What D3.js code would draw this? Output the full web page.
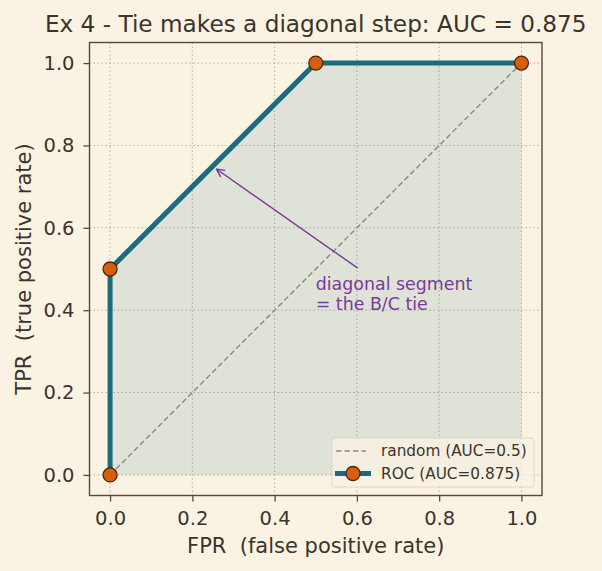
<!DOCTYPE html>
<html>
<head>
<meta charset="utf-8">
<script src="https://cdn.jsdelivr.net/npm/d3@7"></script>
<style>
  body { margin: 0; background: #faf3e4; }
  svg { display: block; }
  text { font-family: "DejaVu Sans", sans-serif; fill: #3b342b; white-space: pre; }
</style>
</head>
<body>
<div id="chart"></div>
<script>
// ROC points (FPR, TPR)
const fpr = [0.0, 0.0, 0.5, 1.0];
const tpr = [0.0, 0.5, 1.0, 1.0];
const randomX = [0, 1];
const randomY = [0, 1];
const xTicks = [0.0, 0.2, 0.4, 0.6, 0.8, 1.0];
const yTicks = [0.0, 0.2, 0.4, 0.6, 0.8, 1.0];
const titleText = "Ex 4 - Tie makes a diagonal step: AUC = 0.875";
const xLabel = "FPR  (false positive rate)";
const yLabel = "TPR  (true positive rate)";
const legendLabels = ["random (AUC=0.5)", "ROC (AUC=0.875)"];
const noteLines = ["diagonal segment", "= the B/C tie"];
const notePoint = [0.25, 0.75];
const noteText = [0.5, 0.4];

const W = 602, H = 571;
const margin = { top: 42.5, right: 60, bottom: 75.5, left: 89.5 };
const width = W - margin.left - margin.right,
      height = H - margin.top - margin.bottom;

const svg = d3.select("#chart").append("svg")
    .attr("width", W).attr("height", H);
svg.append("rect").attr("width", W).attr("height", H).attr("fill", "#faf3e4");

const g = svg.append("g").attr("transform", `translate(${margin.left},${margin.top})`);

const x = d3.scaleLinear().domain([-0.05, 1.05]).range([0, width]);
const y = d3.scaleLinear().domain([-0.05, 1.05]).range([height, 0]);

const roc = fpr.map((f, i) => ({ x: f, y: tpr[i] }));

// grid
g.append("g").selectAll("line").data(xTicks).enter().append("line")
    .attr("x1", d => x(d)).attr("x2", d => x(d))
    .attr("y1", 0).attr("y2", height)
    .attr("stroke", "#b5aea0").attr("stroke-width", 1).attr("stroke-dasharray", "1.5,2.5");
g.append("g").selectAll("line").data(yTicks).enter().append("line")
    .attr("y1", d => y(d)).attr("y2", d => y(d))
    .attr("x1", 0).attr("x2", width)
    .attr("stroke", "#b5aea0").attr("stroke-width", 1).attr("stroke-dasharray", "1.5,2.5");

// area under ROC
const area = d3.area().x(d => x(d.x)).y0(y(0)).y1(d => y(d.y));
g.append("path").datum(roc).attr("d", area)
    .attr("fill", "#1b6b7a").attr("fill-opacity", 0.12);

// random line
const line = d3.line().x(d => x(d.x)).y(d => y(d.y));
g.append("path").datum(randomX.map((v, i) => ({ x: v, y: randomY[i] })))
    .attr("d", line).attr("fill", "none")
    .attr("stroke", "#8a8a80").attr("stroke-width", 1.4).attr("stroke-dasharray", "5.5,3");

// ROC line
g.append("path").datum(roc).attr("d", line).attr("fill", "none")
    .attr("stroke", "#1b6b7a").attr("stroke-width", 5).attr("stroke-linejoin", "round");

g.selectAll(".pt").data(roc).enter().append("circle")
    .attr("class", "pt")
    .attr("cx", d => x(d.x)).attr("cy", d => y(d.y)).attr("r", 7)
    .attr("fill", "#d65f0e").attr("stroke", "#4a2510").attr("stroke-width", 1.3);

// annotation
const defs = svg.append("defs");
defs.append("marker").attr("id", "arr")
    .attr("viewBox", "0 0 10 10").attr("refX", 9).attr("refY", 5)
    .attr("markerWidth", 10).attr("markerHeight", 10)
    .attr("markerUnits", "userSpaceOnUse")
    .attr("orient", "auto")
    .append("path").attr("d", "M1,1 L9,5 L1,9")
    .attr("fill", "none").attr("stroke", "#7a3a9a").attr("stroke-width", 1.4);

const tailX = x(noteText[0]) + 42, tailY = y(noteText[1]) - 42;
g.append("line")
    .attr("x1", tailX).attr("y1", tailY)
    .attr("x2", x(notePoint[0]) + 3.5).attr("y2", y(notePoint[1]) + 3)
    .attr("stroke", "#7a3a9a").attr("stroke-width", 1.4)
    .attr("marker-end", "url(#arr)");

const note = g.append("text")
    .attr("x", x(noteText[0])).attr("y", y(noteText[1]))
    .style("font-size", "17.4px").style("fill", "#7a3a9a");
note.append("tspan").attr("x", x(noteText[0])).attr("dy", -20.5).text(noteLines[0]);
note.append("tspan").attr("x", x(noteText[0])).attr("dy", 20.5).text(noteLines[1]);

// axes
const xAxis = g.append("g").attr("transform", `translate(0,${height})`)
    .call(d3.axisBottom(x).tickValues(xTicks).tickFormat(d3.format(".1f")).tickSize(6).tickPadding(10));
const yAxis = g.append("g")
    .call(d3.axisLeft(y).tickValues(yTicks).tickFormat(d3.format(".1f")).tickSize(6).tickPadding(9));
[xAxis, yAxis].forEach(a => {
    a.select(".domain").remove();
    a.selectAll(".tick line").attr("stroke", "#54493b").attr("stroke-width", 1.3);
    a.selectAll(".tick text").style("font-size", "19.5px")
        .style("font-family", "DejaVu Sans, sans-serif").attr("fill", "#3b342b");
});

// frame
g.append("rect").attr("width", width).attr("height", height)
    .attr("fill", "none").attr("stroke", "#54493b").attr("stroke-width", 1.4);

// legend
const lg = g.append("g").attr("transform", `translate(${332 - margin.left},${438 - margin.top})`);
lg.append("rect").attr("width", 202).attr("height", 49).attr("rx", 3)
    .attr("fill", "#faf3e4").attr("fill-opacity", 0.8)
    .attr("stroke", "#ddd6c6").attr("stroke-width", 1);
lg.append("line").attr("x1", 4).attr("x2", 34).attr("y1", 13).attr("y2", 13)
    .attr("stroke", "#8a8a80").attr("stroke-width", 1.4).attr("stroke-dasharray", "5.5,3");
lg.append("line").attr("x1", 3).attr("x2", 39).attr("y1", 35.5).attr("y2", 35.5)
    .attr("stroke", "#1b6b7a").attr("stroke-width", 5);
lg.append("circle").attr("cx", 21).attr("cy", 35.5).attr("r", 7)
    .attr("fill", "#d65f0e").attr("stroke", "#4a2510").attr("stroke-width", 1.3);
lg.selectAll(".lt").data(legendLabels).enter().append("text")
    .attr("x", 49).attr("y", (d, i) => 13 + i * 22.5).attr("dy", "0.35em")
    .style("font-size", "15.3px").text(d => d);

// titles
svg.append("text").attr("x", margin.left + width / 2).attr("y", 32)
    .attr("text-anchor", "middle").style("font-size", "23.2px").text(titleText);
svg.append("text").attr("x", margin.left + width / 2).attr("y", 553)
    .attr("text-anchor", "middle").style("font-size", "21px").text(xLabel);
svg.append("text").attr("transform", `translate(31,${margin.top + height / 2}) rotate(-90)`)
    .attr("text-anchor", "middle").style("font-size", "21px").text(yLabel);
</script>
</body>
</html>
